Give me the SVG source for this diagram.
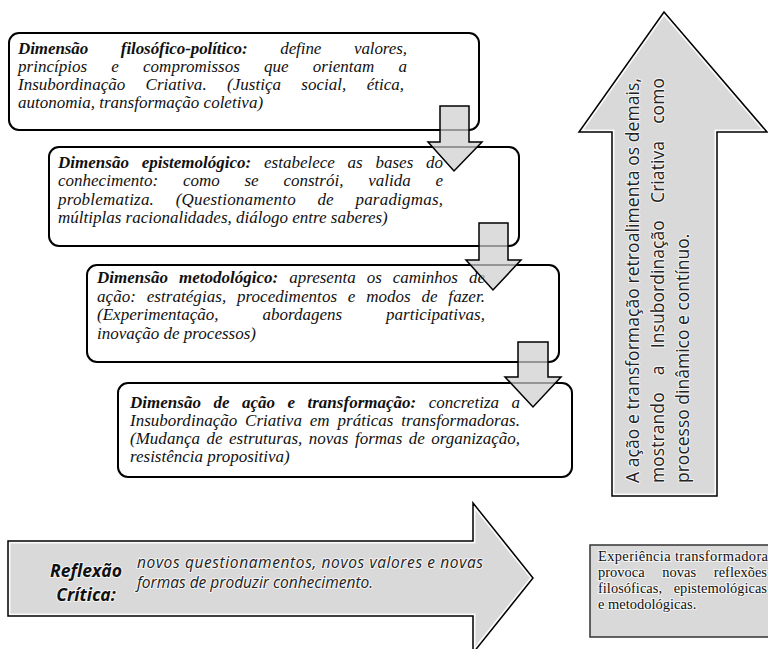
<svg xmlns="http://www.w3.org/2000/svg" width="768" height="649" viewBox="0 0 768 649">
<defs>
<style>
.box{fill:#fff;stroke:#000;stroke-width:2}
.dn{fill:#cfcfcf;fill-opacity:0.72;stroke:#000;stroke-width:1.5;stroke-linejoin:miter}
.big{fill:#d9d9d9;stroke:none}
.edge{fill:none;stroke:#000;stroke-width:1.5;stroke-linejoin:miter}
.glow{fill:none;stroke:#fff;stroke-width:5;stroke-opacity:0.85}
.bt{font-family:"Liberation Serif",serif;font-style:italic;font-size:17px;fill:#111}
.bt .b{font-weight:bold}
.halo{paint-order:stroke;stroke:#fff;stroke-width:2.2px;stroke-opacity:0.7;stroke-linejoin:round}
.vt{font-family:"Open Sans","Liberation Sans",sans-serif;font-size:17.5px;fill:#222}
.rt{font-family:"Open Sans","Liberation Sans",sans-serif;font-style:italic;font-size:15.5px;fill:#222}
.rh{font-family:"Open Sans","Liberation Sans",sans-serif;font-style:italic;font-weight:bold;font-size:17.5px;fill:#111;text-anchor:middle}
.et{font-family:"Liberation Serif",serif;font-size:14.5px;fill:#111}
</style>
<path id="upShape" d="M612,496 V132 H579 L664,12 L767,132 H717 V496 Z"/>
<path id="rtShape" d="M8,541 H473 V503 L533,578 L473,653 V616 H8 Z"/>
<clipPath id="clipUp"><use href="#upShape"/></clipPath>
<clipPath id="clipRt"><use href="#rtShape"/></clipPath>
</defs>

<g id="box1">
<rect class="box" x="9" y="33" width="470" height="97" rx="10"/>
<text class="bt" x="18" y="54" word-spacing="28.5" textLength="389" lengthAdjust="spacing"><tspan class="b">Dimensão filosófico-político:</tspan> define valores,</text>
<text class="bt" x="18" y="72" word-spacing="19.9" textLength="389" lengthAdjust="spacing">princípios e compromissos que orientam a</text>
<text class="bt" x="18" y="90" word-spacing="16.1" textLength="386" lengthAdjust="spacing">Insubordinação Criativa. (Justiça social, ética,</text>
<text class="bt" x="18" y="108">autonomia, transformação coletiva)</text>
</g>

<g id="box2">
<rect class="box" x="49" y="147" width="470" height="99" rx="10"/>
<text class="bt" x="58" y="168" word-spacing="8.5" textLength="385" lengthAdjust="spacing"><tspan class="b">Dimensão epistemológico:</tspan> estabelece as bases do</text>
<text class="bt" x="58" y="186" word-spacing="20.5" textLength="385" lengthAdjust="spacing">conhecimento: como se constrói, valida e</text>
<text class="bt" x="58" y="205" word-spacing="17.1" textLength="385" lengthAdjust="spacing">problematiza. (Questionamento de paradigmas,</text>
<text class="bt" x="58" y="223">múltiplas racionalidades, diálogo entre saberes)</text>
</g>

<g id="box3">
<rect class="box" x="87" y="265" width="472" height="97" rx="10"/>
<text class="bt" x="97" y="283" word-spacing="6.7" textLength="388" lengthAdjust="spacing"><tspan class="b">Dimensão metodológico:</tspan> apresenta os caminhos de</text>
<text class="bt" x="97" y="302" word-spacing="6.4" textLength="388" lengthAdjust="spacing">ação: estratégias, procedimentos e modos de fazer.</text>
<text class="bt" x="97" y="320" word-spacing="39.5" textLength="388" lengthAdjust="spacing">(Experimentação, abordagens participativas,</text>
<text class="bt" x="97" y="339">inovação de processos)</text>
</g>

<g id="box4">
<rect class="box" x="118" y="383" width="454" height="94" rx="10"/>
<text class="bt" x="130" y="408" word-spacing="8.2" textLength="390" lengthAdjust="spacing"><tspan class="b">Dimensão de ação e transformação:</tspan> concretiza a</text>
<text class="bt" x="130" y="426" word-spacing="3.6" textLength="390" lengthAdjust="spacing">Insubordinação Criativa em práticas transformadoras.</text>
<text class="bt" x="130" y="444" word-spacing="2.2" textLength="390" lengthAdjust="spacing">(Mudança de estruturas, novas formas de organização,</text>
<text class="bt" x="130" y="462">resistência propositiva)</text>
</g>

<g id="connectors">
<path class="dn" d="M440,106 H469 V142 H482 L454,171 L428,142 H440 Z"/>
<path class="dn" d="M479,223 H508 V260 H521 L493,290 L466,260 H479 Z"/>
<path class="dn" d="M518,342 H548 V377 H561 L533,407 L505,377 H518 Z"/>
</g>

<g id="feedback-arrow">
<use href="#upShape" class="big"/>
<use href="#upShape" class="glow" clip-path="url(#clipUp)"/>
<use href="#upShape" class="edge"/>
<text class="vt halo" transform="translate(639,483) rotate(-90)" textLength="405" lengthAdjust="spacing">A ação e transformação retroalimenta os demais,</text>
<text class="vt halo" transform="translate(664,483) rotate(-90)" word-spacing="12.5" textLength="405" lengthAdjust="spacing">mostrando a Insubordinação Criativa como</text>
<text class="vt halo" transform="translate(689,483) rotate(-90)">processo dinâmico e contínuo.</text>
</g>

<g id="reflexao-arrow">
<use href="#rtShape" class="big"/>
<use href="#rtShape" class="glow" clip-path="url(#clipRt)"/>
<use href="#rtShape" class="edge"/>
<text class="rh halo" x="86" y="577">Reflexão</text>
<text class="rh halo" x="86" y="601">Crítica:</text>
<text class="rt halo" x="137" y="568" textLength="346" lengthAdjust="spacing">novos questionamentos, novos valores e novas</text>
<text class="rt halo" x="137" y="588">formas de produzir conhecimento.</text>
</g>

<g id="experiencia">
<rect x="590" y="545" width="185" height="92" fill="#d9d9d9" stroke="#333" stroke-width="1.5"/>
<text class="et halo" x="598" y="561" textLength="170" lengthAdjust="spacing">Experiência transformadora</text>
<text class="et halo" x="598" y="577" word-spacing="14" textLength="169" lengthAdjust="spacing">provoca novas reflexões</text>
<text class="et halo" x="598" y="593" word-spacing="8" textLength="169" lengthAdjust="spacing">filosóficas, epistemológicas</text>
<text class="et halo" x="598" y="609">e metodológicas.</text>
</g>
</svg>
